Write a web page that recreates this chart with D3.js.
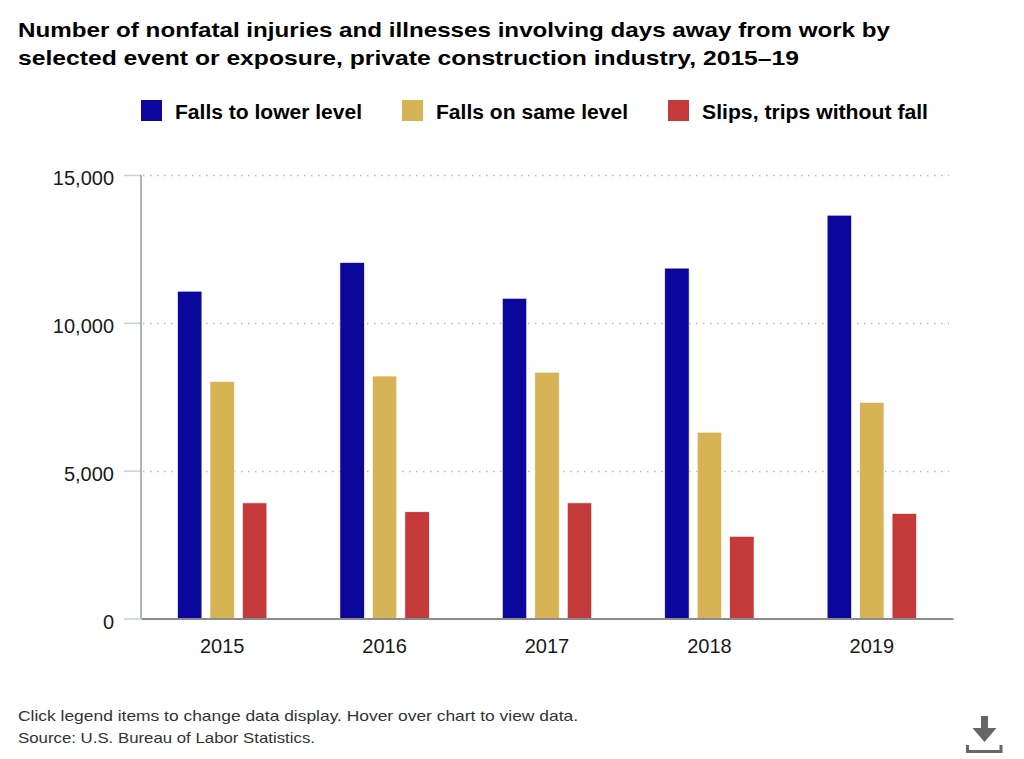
<!DOCTYPE html>
<html>
<head>
<meta charset="utf-8">
<script src="https://cdn.jsdelivr.net/npm/d3@7/dist/d3.min.js"></script>
<style>
  html, body { margin: 0; padding: 0; background: #fff; }
  svg { display: block; font-family: "Liberation Sans", Arial, Helvetica, sans-serif; }
</style>
</head>
<body>
<svg id="chart" width="1024" height="759"></svg>
<script>
const years = ["2015", "2016", "2017", "2018", "2019"];
const seriesNames = ["Falls to lower level", "Falls on same level", "Slips, trips without fall"];
const seriesColors = ["#0c079c", "#d6b355", "#c4393a"];
const fallsLower = [11070, 12040, 10830, 11850, 13640];
const fallsSame = [8020, 8200, 8330, 6300, 7310];
const slipsTrips = [3910, 3610, 3910, 2780, 3550];
const yTicks = [0, 5000, 10000, 15000];
const titleLines = [
  "Number of nonfatal injuries and illnesses involving days away from work by",
  "selected event or exposure, private construction industry, 2015\u201319"
];
const footerLines = [
  "Click legend items to change data display. Hover over chart to view data.",
  "Source: U.S. Bureau of Labor Statistics."
];

const seriesValues = [fallsLower, fallsSame, slipsTrips];
const svg = d3.select("#chart");

const plot = { left: 141, right: 953, top: 175, bottom: 618.5 };

const x0 = d3.scaleBand().domain(years).range([plot.left, plot.right]).padding(0);
const x1 = d3.scaleBand().domain(seriesNames).range([0, x0.bandwidth()])
  .paddingInner(0.25).paddingOuter(1.125);
const y = d3.scaleLinear().domain([0, 15000]).range([plot.bottom, plot.top]);

// Title
const title = svg.append("g");
titleLines.forEach((t, i) => {
  title.append("text")
    .attr("x", 18).attr("y", 37 + i * 28)
    .attr("font-size", 21).attr("font-weight", "bold").attr("fill", "#000")
    .attr("textLength", i === 0 ? 872 : 781)
    .attr("lengthAdjust", "spacingAndGlyphs")
    .text(t);
});

// Legend
const legendX = [141, 402, 668];
const legendTextW = [187, 192, 226];
const legend = svg.append("g");
seriesNames.forEach((name, i) => {
  legend.append("rect")
    .attr("x", legendX[i]).attr("y", 100).attr("width", 21).attr("height", 21)
    .attr("fill", seriesColors[i]);
  legend.append("text")
    .attr("x", legendX[i] + 34).attr("y", 118.5)
    .attr("font-size", 20).attr("font-weight", "bold").attr("fill", "#000")
    .attr("textLength", legendTextW[i]).attr("lengthAdjust", "spacingAndGlyphs")
    .text(name);
});

// Grid lines (dotted)
svg.append("g").selectAll("line")
  .data(yTicks.filter(d => d > 0))
  .join("line")
  .attr("x1", plot.left + 2).attr("x2", plot.right - 4)
  .attr("y1", d => Math.round(y(d)) + 0.5).attr("y2", d => Math.round(y(d)) + 0.5)
  .attr("stroke", "#b8b8b8").attr("stroke-width", 1.5)
  .attr("stroke-dasharray", "1.5,5.5");

// Bars
const groups = svg.append("g").selectAll("g")
  .data(years)
  .join("g")
  .attr("transform", d => `translate(${x0(d)},0)`);

groups.selectAll("rect")
  .data((yr, yi) => seriesNames.map((s, si) => ({ s, si, v: seriesValues[si][yi] })))
  .join("rect")
  .attr("x", d => x1(d.s))
  .attr("width", x1.bandwidth())
  .attr("y", d => y(d.v))
  .attr("height", d => y(0) - y(d.v))
  .attr("fill", d => seriesColors[d.si])
  .attr("stroke", "#fff").attr("stroke-width", 0.6);

// Y axis
const yAxis = d3.axisLeft(y).tickValues(yTicks).tickSize(17).tickPadding(10)
  .tickFormat(d3.format(","));
const yg = svg.append("g").attr("transform", `translate(${plot.left},0)`).call(yAxis);
yg.select(".domain").remove();
yg.selectAll(".tick line").attr("stroke", "#c6d0e0").attr("stroke-width", 1.5);
yg.selectAll(".tick text")
  .attr("font-size", 20).attr("fill", "#1a1a1a")
  .attr("font-family", "'Liberation Sans', Arial, sans-serif")
  .attr("dy", "0.48em");
svg.append("line")
  .attr("x1", plot.left).attr("x2", plot.left)
  .attr("y1", plot.top).attr("y2", plot.bottom)
  .attr("stroke", "#9a9a9a").attr("stroke-width", 1.5);

// X axis
const xAxis = d3.axisBottom(x0).tickSize(0).tickPadding(20);
const xg = svg.append("g").attr("transform", `translate(0,${plot.bottom})`).call(xAxis);
xg.select(".domain").attr("stroke", "#8c8c8c").attr("stroke-width", 1.8);
xg.selectAll(".tick text")
  .attr("font-size", 20).attr("fill", "#1a1a1a")
  .attr("font-family", "'Liberation Sans', Arial, sans-serif");

// Footer
footerLines.forEach((t, i) => {
  svg.append("text")
    .attr("x", 18).attr("y", 721 + i * 22)
    .attr("font-size", 15).attr("fill", "#333")
    .attr("textLength", i === 0 ? 560 : 297).attr("lengthAdjust", "spacingAndGlyphs")
    .text(t);
});

// Download icon
const icon = svg.append("g").attr("fill", "#666");
icon.append("path")
  .attr("d", "M981,716 L988,716 L988,728 L996.5,728 L984.5,742 L972.5,728 L981,728 Z");
icon.append("path")
  .attr("d", "M966,745 L969,745 L969,750 L999.5,750 L999.5,745 L1002.5,745 L1002.5,753 L966,753 Z");
</script>
</body>
</html>
